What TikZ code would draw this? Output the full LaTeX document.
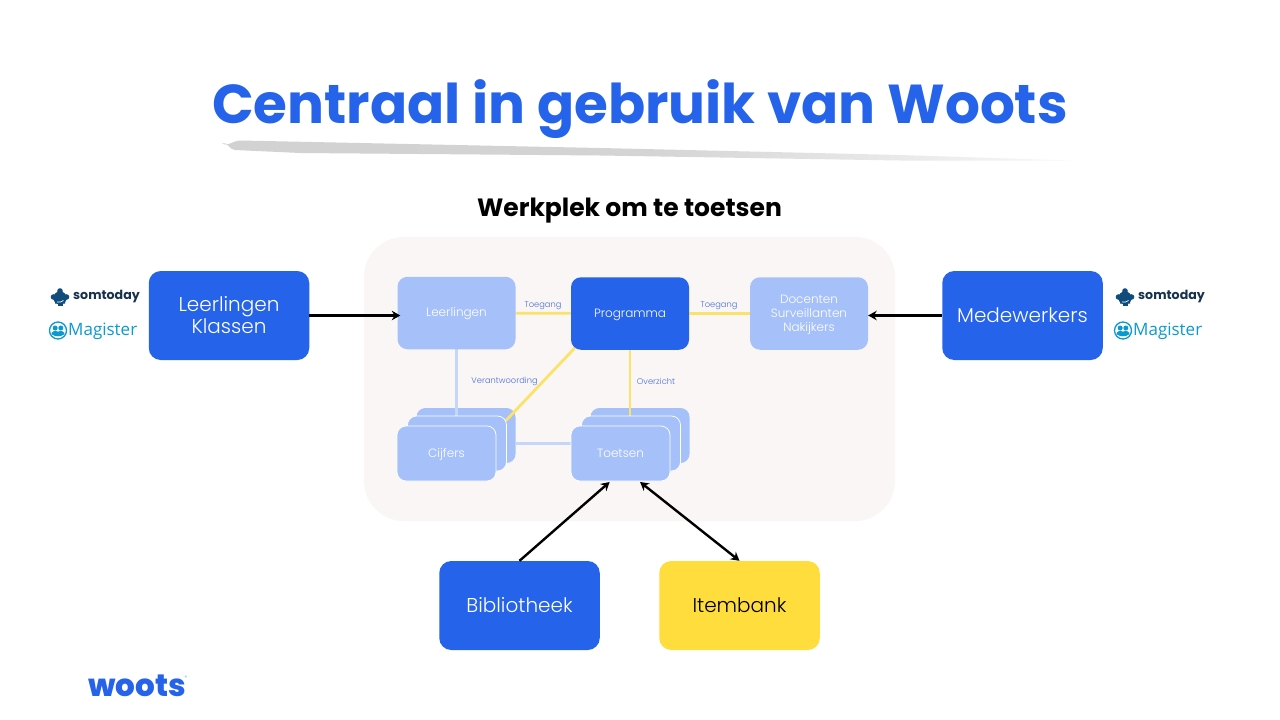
\documentclass[tikz,border=0pt]{standalone}
\usepackage{fontspec}
\setmainfont{Poppins}
\newfontfamily\lightfont{Poppins Light}
\newfontfamily\heavyfont{Poppins ExtraBold}
\newfontfamily\magfont{Open Sans}
\usetikzlibrary{arrows.meta}
\definecolor{wblue}{HTML}{2563EB}
\definecolor{wlight}{HTML}{A6C1F9}
\definecolor{wyellow}{HTML}{FFDD3C}
\definecolor{lineyellow}{HTML}{FBE36A}
\definecolor{lineblue}{HTML}{C4D7F8}
\definecolor{wlabel}{HTML}{4A70DC}
\definecolor{wpanel}{HTML}{FAF6F5}
\definecolor{brush}{HTML}{CFCFCF}
\definecolor{somblue}{HTML}{0F4C7C}
\definecolor{somtext}{HTML}{17324F}
\definecolor{magblue}{HTML}{0A9AD0}
\pgfdeclarelayer{panel}
\pgfdeclarelayer{back}
\pgfdeclarelayer{conn}
\pgfsetlayers{panel,back,conn,main}
\tikzset{
 x=1pt,y=-1pt,
 bigbox/.style={rounded corners=12pt,minimum width=160.5pt,minimum height=89pt,inner sep=0pt,align=center,font=\lightfont\fontsize{20}{22}\selectfont,text=white,fill=wblue},
 smallbox/.style={rounded corners=10pt,minimum width=118pt,minimum height=72.5pt,inner sep=0pt,align=center,font=\lightfont\fontsize{12}{14}\selectfont,text=white,fill=wlight},
 oneline/.style={text height=7.5pt,text depth=0pt},
 stackbox/.style={rounded corners=9pt,minimum width=99pt,minimum height=55pt,inner sep=0pt,align=center,font=\lightfont\fontsize{12}{14}\selectfont,text=white,fill=wlight,draw=white,line width=0.7pt},
 linklabel/.style={font=\lightfont\fontsize{8.3}{10}\selectfont,text=wlabel,inner sep=0pt},
 yline/.style={draw=lineyellow,line width=2.8pt},
 bline/.style={draw=lineblue,line width=2.8pt},
 blackarrow/.style={draw=black,line width=2.4pt,-{Stealth[length=8.5pt,width=9.5pt]}},
 blackboth/.style={draw=black,line width=2.4pt,{Stealth[length=8.5pt,width=9.5pt]}-{Stealth[length=8.5pt,width=9.5pt]}},
 somlabel/.style={font=\bfseries\fontsize{12.6}{15}\selectfont,text=somtext,inner sep=0pt},
 maglabel/.style={font=\magfont\fontsize{17}{20}\selectfont,text=magblue,inner sep=0pt},
}
\newcommand{\somicon}[2]{%
 \begin{scope}[shift={(#1,#2)}]
 \fill[somblue] (0,1) circle[radius=6.6pt] (0,-6) circle[radius=2.8pt] (-6.5,0) circle[radius=2.8pt] (6.5,0) circle[radius=2.8pt] (-2.6,-6) rectangle (2.6,-2) (-7,-2.5) rectangle (7,2.5) (-5,5) rectangle (5,6.5);
 \fill[somblue] (-2.5,8.6) rectangle (2.5,6);
 \draw[white,line width=0.7pt] (-3,5) to[bend right=25] (3.5,3.5);
 \end{scope}}
\newcommand{\magicon}[2]{%
 \begin{scope}[shift={(#1,#2)}]
 \draw[magblue,line width=1.3pt,fill=white] (0,0) circle[radius=8.5pt];
 \fill[magblue] (-2.8,-2.5) circle[radius=2.5pt] (2.8,-2.5) circle[radius=2.5pt];
 \fill[magblue] (-6.6,3.6) to[bend left=60] (-0.6,1) -- (0.6,1) to[bend left=60] (6.6,3.6) to[bend left=35] (-6.6,3.6);
 \end{scope}}
\begin{document}
\begin{tikzpicture}
\begin{pgfonlayer}{panel}
\fill[white] (0,0) rectangle (1280,720);
\end{pgfonlayer}
\useasboundingbox (0,0) rectangle (1280,720);
\node[font=\bfseries\fontsize{54.8}{60}\selectfont,text=wblue,inner sep=0pt] (title) at (640,109) {Centraal in gebruik van Woots};
\shade[left color=brush!95,right color=brush!15,middle color=brush!90] (222,143.5) to[out=-30,in=180] (240,140.5) -- (600,148) -- (900,155) -- (1070,160.5) -- (900,160.5) -- (600,155.5) -- (300,153) -- (235,150) to[out=180,in=30] cycle;
\node[font=\bfseries\fontsize{25}{28}\selectfont,text=black,inner sep=0pt] (head) at (629.5,211) {Werkplek om te toetsen};

\begin{pgfonlayer}{panel}
\node[fill=wpanel,rounded corners=40pt,minimum width=531pt,minimum height=284pt,inner sep=0pt] (panel) at (629.5,379) {};
\end{pgfonlayer}

\begin{pgfonlayer}{back}
\node[stackbox,draw=none] (cback) at (466,435.5) {};
\node[stackbox,draw=none] (tback) at (640,435.5) {};
\end{pgfonlayer}

\node[smallbox,oneline] (leer) at (456.5,313) {Leerlingen};
\node[smallbox,oneline,fill=wblue] (prog) at (630,313.5) {Programma};
\node[smallbox] (doc) at (809,313.5) {\rule{0pt}{12pt}Docenten\\Surveillanten\\Nakijkers};
\node[stackbox] (cmid) at (457,443.5) {};
\node[stackbox] (tmid) at (631,443.5) {};
\node[stackbox,oneline] (cfront) at (446.5,453.5) {Cijfers};
\node[stackbox,oneline] (tfront) at (620.5,453.5) {Toetsen};

\begin{pgfonlayer}{conn}
\draw[yline] (leer) -- (prog);
\draw[yline] (prog) -- (doc);
\draw[yline] (prog.south) -- (prog.south |- cmid.north);
\draw[yline] ([xshift=4pt,yshift=2pt]prog.south west) -- ([xshift=-1pt,yshift=-5pt]cmid.north east);
\draw[bline] (leer.south) -- (leer.south |- cmid.north);
\draw[bline] (cback.east |- cmid.center) -- (tfront.west |- cmid.center);
\end{pgfonlayer}

\node[linklabel] (l1) at (543,305.5) {Toegang};
\node[linklabel] (l2) at (719,305.5) {Toegang};
\node[linklabel] (l3) at (504.5,381) {Verantwoording};
\node[linklabel] (l4) at (656,381) {Overzicht};

\node[bigbox] (klas) at (229,315.5) {Leerlingen\\Klassen};
\node[bigbox] (mede) at (1022.5,315.5) {Medewerkers};
\node[bigbox] (bib) at (519.5,605.5) {Bibliotheek};
\node[bigbox,fill=wyellow,text=black] (item) at (739.5,605.5) {Itembank};

\draw[blackarrow,shorten >=-3pt] (klas.east) -- (leer.west |- klas.east);
\draw[blackarrow] (mede.west) -- (doc.east |- mede.west);
\draw[blackarrow,shorten >=1pt] (bib.north) -- (tfront.250);
\draw[blackboth,shorten >=0pt,shorten <=1pt] (tfront.304) -- (item.north);

\somicon{60}{297}
\node[somlabel,anchor=west] (som1) at (73,297) {somtoday};
\magicon{58}{330.5}
\node[maglabel,anchor=west] (mag1) at (68,331) {Magister};
\somicon{1125}{297}
\node[somlabel,anchor=west] (som2) at (1138,297) {somtoday};
\magicon{1123}{330.5}
\node[maglabel,anchor=west] (mag2) at (1133,331) {Magister};

\node[font=\heavyfont\fontsize{31}{33}\selectfont,text=wblue,inner sep=0pt,anchor=west] (logo) at (88,686) {woots};
\node[font=\fontsize{5}{6}\selectfont,text=wblue!60,inner sep=0pt] (reg) at (186,678) {®};
\end{tikzpicture}
\end{document}
